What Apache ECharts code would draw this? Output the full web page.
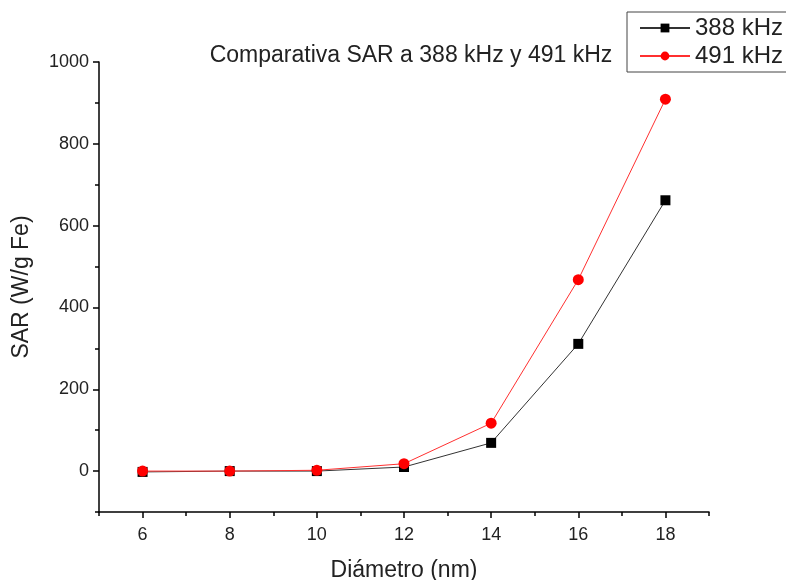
<!DOCTYPE html>
<html>
<head>
<meta charset="utf-8">
<script src="https://cdn.jsdelivr.net/npm/echarts@6/dist/echarts.min.js"></script>
<style>
  html, body { margin: 0; padding: 0; background: #fff; }
  #chart { width: 786px; height: 580px; }
</style>
</head>
<body>
<div id="chart"></div>
<script>
const diameters = [6, 8, 10, 12, 14, 16, 18];
const sar388 = [-2, 0, 0, 10, 69, 311, 662];
const sar491 = [0, 0, 2, 18, 117, 468, 909];
const xMajor = [6, 8, 10, 12, 14, 16, 18];
const xMinor = [5, 7, 9, 11, 13, 15, 17, 19];
const yMajor = [0, 200, 400, 600, 800, 1000];
const yMinor = [-100, 100, 300, 500, 700, 900];

const font = 'Liberation Sans, Arial, sans-serif';
const chart = echarts.init(document.getElementById('chart'));

const pairs = (ys) => diameters.map((d, i) => [d, ys[i]]);

// extra axis that only carries the short minor ticks
const minorAxis = (vals) => ({
  type: 'value',
  axisLine: { show: false, onZero: false },
  axisLabel: { show: false },
  splitLine: { show: false },
  axisTick: { show: true, customValues: vals, length: 4, lineStyle: { color: '#000', width: 1.5 } }
});

const option = {
  backgroundColor: '#fff',
  animation: false,
  title: {
    text: 'Comparativa SAR a 388 kHz y 491 kHz',
    left: 406,
    textAlign: 'center',
    top: 39,
    textStyle: { fontFamily: font, fontSize: 23, fontWeight: 'normal', color: '#222' }
  },
  legend: {
    orient: 'vertical',
    left: 627,
    top: 12,
    padding: [4, 12, 4, 12],
    itemGap: 4,
    itemWidth: 50,
    itemHeight: 11,
    borderColor: '#444',
    borderWidth: 1,
    textStyle: { fontFamily: font, fontSize: 24, color: '#222' },
    data: ['388 kHz', '491 kHz']
  },
  grid: { left: 99, right: 77, top: 62, bottom: 68, outerBoundsMode: 'none' },
  xAxis: [
    {
      type: 'value',
      min: 5,
      max: 19,
      position: 'bottom',
      name: 'Diámetro (nm)',
      nameLocation: 'middle',
      nameGap: 47,
      nameTextStyle: { fontFamily: font, fontSize: 23, color: '#222' },
      axisLine: { show: true, onZero: false, lineStyle: { color: '#000', width: 1.5 } },
      axisTick: { show: true, customValues: xMajor, length: 6, lineStyle: { color: '#000', width: 1.5 } },
      axisLabel: { customValues: xMajor, fontFamily: font, fontSize: 18, color: '#222', margin: 14 },
      splitLine: { show: false }
    },
    Object.assign(minorAxis(xMinor), { min: 5, max: 19, position: 'bottom' })
  ],
  yAxis: [
    {
      type: 'value',
      min: -100,
      max: 1000,
      position: 'left',
      name: 'SAR (W/g Fe)',
      nameLocation: 'middle',
      nameGap: 66,
      nameTextStyle: { fontFamily: font, fontSize: 23, color: '#222' },
      axisLine: { show: true, onZero: false, lineStyle: { color: '#000', width: 1.5 } },
      axisTick: { show: true, customValues: yMajor, length: 6, lineStyle: { color: '#000', width: 1.5 } },
      axisLabel: {
        customValues: yMajor,
        formatter: (v) => String(v),
        fontFamily: font, fontSize: 18, color: '#222', margin: 10
      },
      splitLine: { show: false }
    },
    Object.assign(minorAxis(yMinor), { min: -100, max: 1000, position: 'left' })
  ],
  series: [
    {
      name: '388 kHz',
      type: 'line',
      xAxisIndex: 0,
      yAxisIndex: 0,
      data: pairs(sar388),
      symbol: 'rect',
      symbolSize: 10,
      itemStyle: { color: '#000' },
      lineStyle: { color: '#333', width: 1 }
    },
    {
      name: '491 kHz',
      type: 'line',
      xAxisIndex: 0,
      yAxisIndex: 0,
      data: pairs(sar491),
      symbol: 'circle',
      symbolSize: 11,
      itemStyle: { color: '#ff0000' },
      lineStyle: { color: '#ff3030', width: 1 }
    }
  ]
};

chart.setOption(option);
</script>
</body>
</html>
